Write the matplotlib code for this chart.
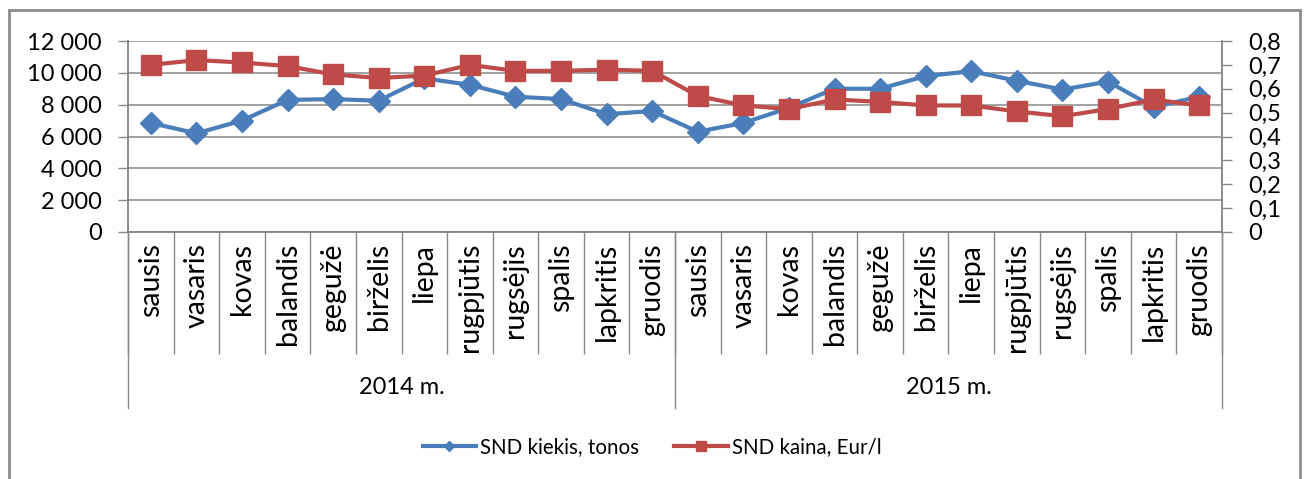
import matplotlib
matplotlib.use("Agg")
import matplotlib.pyplot as plt
from matplotlib.lines import Line2D
from matplotlib.patches import Rectangle

plt.rcParams['font.family'] = ['Lato', 'DejaVu Sans']

# data
months = ['sausis', 'vasaris', 'kovas', 'balandis', 'gegužė', 'birželis',
          'liepa', 'rugpjūtis', 'rugsėjis', 'spalis', 'lapkritis', 'gruodis']
years = ['2014 m.', '2015 m.']
kiekis = [6850, 6200, 7000, 8300, 8350, 8250, 9650, 9250, 8500, 8350, 7400, 7600,
          6300, 6850, 7800, 9000, 9000, 9800, 10100, 9500, 8950, 9450, 7850, 8500]
kaina = [0.70, 0.72, 0.71, 0.695, 0.66, 0.645, 0.655, 0.70, 0.675, 0.675, 0.68, 0.675,
         0.57, 0.53, 0.515, 0.555, 0.545, 0.53, 0.53, 0.505, 0.485, 0.515, 0.555, 0.53]
left_ticks = [0, 2000, 4000, 6000, 8000, 10000, 12000]
left_labels = ['0', '2 000', '4 000', '6 000', '8 000', '10 000', '12 000']
right_ticks = [0, 0.1, 0.2, 0.3, 0.4, 0.5, 0.6, 0.7, 0.8]
right_labels = ['0', '0,1', '0,2', '0,3', '0,4', '0,5', '0,6', '0,7', '0,8']
names = ['SND kiekis, tonos', 'SND kaina, Eur/l']

blue = '#4A7EBB'
red = '#BE4B48'
grey = '#888888'

W, H = 1307, 479
fig = plt.figure(figsize=(W / 100, H / 100), dpi=100)
ax = fig.add_axes([128 / W, 1 - 232 / H, (1222 - 128) / W, (232 - 41) / H])
ax2 = ax.twinx()

n = len(kiekis)
x = [i + 0.5 for i in range(n)]

ax.plot(x, kiekis, color=blue, lw=3, marker='D', ms=11, mec=blue, zorder=3)
ax2.plot(x, kaina, color=red, lw=3, marker='s', ms=14, mec=red, zorder=3)

ax.set_xlim(0, n)
ax.set_ylim(0, 12000)
ax2.set_ylim(0, 0.8)

ax.set_yticks(left_ticks)
ax.set_yticklabels(left_labels, fontsize=17)
ax2.set_yticks(right_ticks)
ax2.set_yticklabels(right_labels, fontsize=17)
ax.grid(axis='y', color=grey, lw=1.1)
ax.set_axisbelow(True)

ax.tick_params(axis='y', length=7, width=1, color=grey, pad=12)
ax2.tick_params(axis='y', length=7, width=1, color=grey, pad=12)

# category axis: separators as long major ticks, month names on minor ticks
ax.set_xticks(range(n + 1))
ax.set_xticklabels([])
ax.tick_params(axis='x', which='major', length=88, width=1, color=grey, direction='out')
ax.set_xticks(x, minor=True)
ax.set_xticklabels(months * len(years), minor=True, rotation=90, fontsize=20.5)
ax.tick_params(axis='x', which='minor', length=0, pad=8)

trans = ax.get_xaxis_transform()
for b in [0, 12, 24]:
    ax.plot([b, b], [0, -176 / 191], color=grey, lw=1, transform=trans, clip_on=False)
for k, yr in enumerate(years):
    ax.text(6 + 12 * k, -156 / 191, yr, transform=trans, ha='center', va='center', fontsize=17)

for a in (ax, ax2):
    a.spines['top'].set_visible(False)
    for s in ('left', 'right', 'bottom'):
        a.spines[s].set_color(grey)
        a.spines[s].set_linewidth(1.1)

handles = [Line2D([], [], color=blue, lw=3, marker='D', ms=5),
           Line2D([], [], color=red, lw=3, marker='s', ms=7)]
fig.legend(handles, names, loc='center', bbox_to_anchor=(652 / W, 1 - 447 / H), ncol=2,
           frameon=False, fontsize=14.8, handlelength=2.6, handletextpad=0.2, columnspacing=1.7)

fig.patches.append(Rectangle((9 / W, -0.1), (1300 - 9) / W, 1 - 10 / H + 0.1,
                             transform=fig.transFigure, fill=False, ec='#8c8c8c', lw=2))

fig.savefig('out.png', dpi=100)
